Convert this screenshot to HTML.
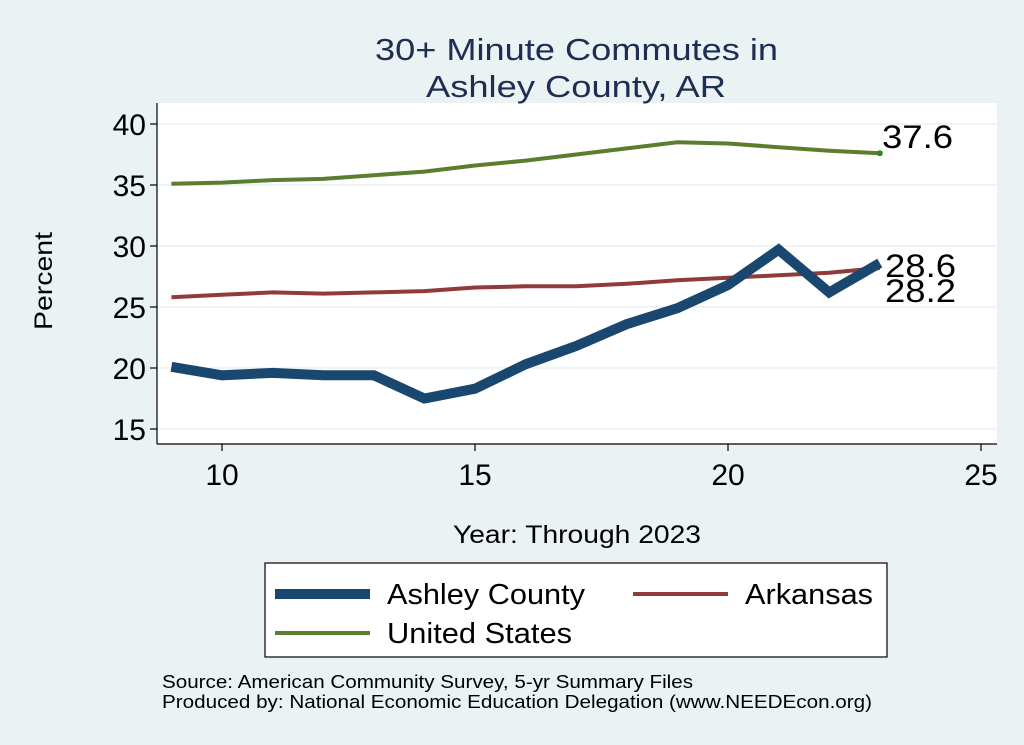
<!DOCTYPE html>
<html><head><style>body{margin:0;background:#eaf2f3}svg{display:block}</style></head><body>
<svg width="1024" height="745" viewBox="0 0 1024 745" xmlns="http://www.w3.org/2000/svg" font-family="Liberation Sans, sans-serif">
<rect width="1024" height="745" fill="#eaf2f3"/>
<rect x="157" y="103" width="840" height="341" fill="#fff"/>
<g stroke="#eaf2f3" stroke-width="1.5">
<line x1="157" x2="997" y1="429" y2="429"/><line x1="157" x2="997" y1="368" y2="368"/><line x1="157" x2="997" y1="307" y2="307"/><line x1="157" x2="997" y1="246" y2="246"/><line x1="157" x2="997" y1="185" y2="185"/><line x1="157" x2="997" y1="124" y2="124"/>
</g>
<g stroke="#000" stroke-width="1.2">
<line x1="157" y1="103" x2="157" y2="444"/><line x1="157" y1="444" x2="997" y2="444"/>
<line x1="150" x2="157" y1="429" y2="429"/><line x1="150" x2="157" y1="368" y2="368"/><line x1="150" x2="157" y1="307" y2="307"/><line x1="150" x2="157" y1="246" y2="246"/><line x1="150" x2="157" y1="185" y2="185"/><line x1="150" x2="157" y1="124" y2="124"/>
<line x1="222" x2="222" y1="444" y2="451"/><line x1="475" x2="475" y1="444" y2="451"/><line x1="728" x2="728" y1="444" y2="451"/><line x1="981" x2="981" y1="444" y2="451"/>
</g>
<g font-size="30" text-anchor="end" fill="#000">
<text x="146" y="440">15</text><text x="146" y="379">20</text><text x="146" y="318">25</text><text x="146" y="257">30</text><text x="146" y="196">35</text><text x="146" y="135">40</text>
</g>
<g font-size="30" text-anchor="middle" fill="#000">
<text x="222" y="485">10</text><text x="475" y="485">15</text><text x="728" y="485">20</text><text x="981" y="485">25</text>
</g>
<text x="453" y="543" font-size="25" textLength="248" lengthAdjust="spacingAndGlyphs">Year: Through 2023</text>
<text transform="translate(52,330) rotate(-90)" font-size="25" textLength="98" lengthAdjust="spacingAndGlyphs">Percent</text>
<text x="375" y="60" font-size="31" fill="#1e2d52" textLength="403" lengthAdjust="spacingAndGlyphs">30+ Minute Commutes in</text>
<text x="426" y="97" font-size="31" fill="#1e2d52" textLength="300" lengthAdjust="spacingAndGlyphs">Ashley County, AR</text>
<polyline fill="none" stroke="#5a7d2e" stroke-width="4" points="171.4,183.8 222,182.6 272.6,180.1 323.2,178.9 373.8,175.2 424.4,171.6 475,165.5 525.6,160.6 576.2,154.5 626.8,148.4 677.4,142.3 728,143.5 778.6,147.2 829.2,150.8 879.8,153.3"/>
<circle cx="879.8" cy="153.3" r="3" fill="#2a8a1e"/>
<polyline fill="none" stroke="#903a3a" stroke-width="4" points="171.4,297.2 222,294.8 272.6,292.4 323.2,293.6 373.8,292.4 424.4,291.1 475,287.5 525.6,286.3 576.2,286.3 626.8,283.8 677.4,280.2 728,277.7 778.6,275.3 829.2,272.8 879.8,268"/>
<polyline fill="none" stroke="#1a476f" stroke-width="10" stroke-linejoin="miter" points="171.4,366.8 222,375.3 272.6,372.9 323.2,375.3 373.8,375.3 424.4,398.5 475,388.7 525.6,364.3 576.2,346 626.8,324.1 677.4,308.2 728,285 778.6,249.7 829.2,292.4 879.8,263.1"/>
<g font-size="32" fill="#000">
<text x="882" y="148" textLength="71" lengthAdjust="spacingAndGlyphs">37.6</text><text x="885" y="277" textLength="71" lengthAdjust="spacingAndGlyphs">28.6</text><text x="885" y="302" textLength="71" lengthAdjust="spacingAndGlyphs">28.2</text>
</g>
<rect x="265" y="563" width="622" height="94" fill="#fff" stroke="#000" stroke-width="1.2"/>
<line x1="275" x2="370" y1="594" y2="594" stroke="#1a476f" stroke-width="10"/>
<line x1="633" x2="728" y1="594" y2="594" stroke="#903a3a" stroke-width="4"/>
<line x1="275" x2="370" y1="633" y2="633" stroke="#5a7d2e" stroke-width="4"/>
<g font-size="29"><text x="387" y="604" textLength="198" lengthAdjust="spacingAndGlyphs">Ashley County</text><text x="745" y="604" textLength="128" lengthAdjust="spacingAndGlyphs">Arkansas</text><text x="387" y="643" textLength="185" lengthAdjust="spacingAndGlyphs">United States</text></g>
<g font-size="18"><text x="162" y="688" textLength="531" lengthAdjust="spacingAndGlyphs">Source: American Community Survey, 5-yr Summary Files</text><text x="162" y="708" textLength="710" lengthAdjust="spacingAndGlyphs">Produced by: National Economic Education Delegation (www.NEEDEcon.org)</text></g>
</svg>
</body></html>
